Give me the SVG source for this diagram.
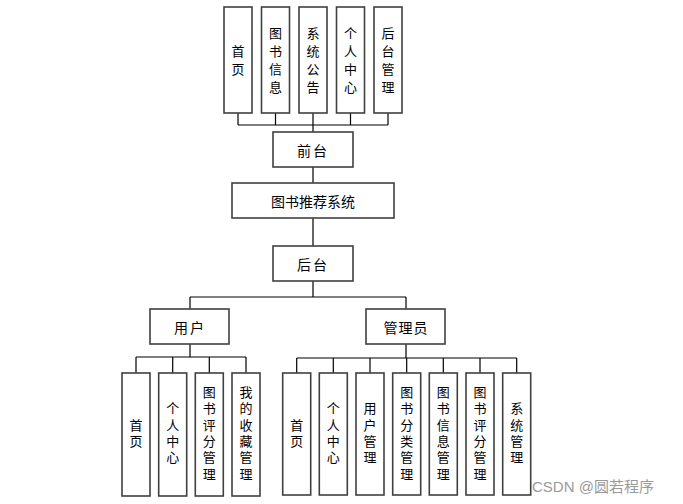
<svg xmlns="http://www.w3.org/2000/svg" width="683" height="504" viewBox="0 0 683 504">
<style>
.box{fill:#fff;stroke:#404040;stroke-width:1.6}
.t{font-family:"Noto Sans CJK SC","Liberation Sans",sans-serif;font-size:14px;fill:#000;text-anchor:middle;dominant-baseline:central}
.v{font-family:"Noto Sans CJK SC","Liberation Sans",sans-serif;font-size:13px;fill:#000;text-anchor:middle;writing-mode:vertical-rl;letter-spacing:5px}
.v2{font-family:"Noto Sans CJK SC","Liberation Sans",sans-serif;font-size:13px;fill:#000;text-anchor:middle;writing-mode:vertical-rl;letter-spacing:3.3px}
.ln{fill:none;stroke:#000;stroke-width:1.2}
.wm{font-family:"Liberation Sans","Noto Sans CJK SC",sans-serif;font-size:15px;fill:#9a9a9a}
</style>
<rect width="683" height="504" fill="#fff"/>
<g id="connectors">
<path class="ln" d="M238,113V125M275.5,113V125M313,113V125M350.5,113V125M388,113V125M238,125H388M313,125V132"/>
<path class="ln" d="M313,167V183M313,218V246M313,281V297M190,297H406M190,297V309M406,297V309"/>
<path class="ln" d="M190,344V357M136,357H246M136,357V373M172.7,357V373M209.3,357V373M246,357V373"/>
<path class="ln" d="M406,344V358M296.7,358H516.7M296.7,358V373M333.3,358V373M370,358V373M406.7,358V373M443.3,358V373M480,358V373M516.7,358V373"/>
</g>
<g id="top-home"><rect class="box" x="224" y="7" width="28" height="106"/><text class="v" x="238" y="62.5">首页</text></g>
<g id="top-bookinfo"><rect class="box" x="261.5" y="7" width="28" height="106"/><text class="v" x="275.5" y="62.5">图书信息</text></g>
<g id="top-notice"><rect class="box" x="299" y="7" width="28" height="106"/><text class="v" x="313" y="62.5">系统公告</text></g>
<g id="top-personal"><rect class="box" x="336.5" y="7" width="28" height="106"/><text class="v" x="350.5" y="62.5">个人中心</text></g>
<g id="top-admin"><rect class="box" x="374" y="7" width="28" height="106"/><text class="v" x="388" y="62.5">后台管理</text></g>
<g id="frontend"><rect class="box" x="273" y="132" width="80" height="35"/><text class="t" x="313" y="149.5" letter-spacing="2">前台</text></g>
<g id="system"><rect class="box" x="232" y="183" width="162" height="35"/><text class="t" x="313" y="200.5">图书推荐系统</text></g>
<g id="backend"><rect class="box" x="273" y="246" width="80" height="35"/><text class="t" x="313" y="263.5" letter-spacing="2">后台</text></g>
<g id="user"><rect class="box" x="150" y="309" width="79" height="35"/><text class="t" x="190" y="326.5" letter-spacing="2">用户</text></g>
<g id="admin"><rect class="box" x="366" y="309" width="79" height="35"/><text class="t" x="406" y="326.5" letter-spacing="1">管理员</text></g>
<g id="u-home"><rect class="box" x="122" y="373" width="28" height="123"/><text class="v2" x="136" y="434.5">首页</text></g>
<g id="u-personal"><rect class="box" x="158.7" y="373" width="28" height="123"/><text class="v2" x="172.7" y="434.5">个人中心</text></g>
<g id="u-rating"><rect class="box" x="195.3" y="373" width="28" height="123"/><text class="v2" x="209.3" y="434.5">图书评分管理</text></g>
<g id="u-favorites"><rect class="box" x="232" y="373" width="28" height="123"/><text class="v2" x="246" y="434.5">我的收藏管理</text></g>
<g id="a-home"><rect class="box" x="282.7" y="373" width="28" height="122"/><text class="v2" x="296.7" y="434.5">首页</text></g>
<g id="a-personal"><rect class="box" x="319.3" y="373" width="28" height="122"/><text class="v2" x="333.3" y="434.5">个人中心</text></g>
<g id="a-users"><rect class="box" x="356" y="373" width="28" height="122"/><text class="v2" x="370" y="434.5">用户管理</text></g>
<g id="a-category"><rect class="box" x="392.7" y="373" width="28" height="122"/><text class="v2" x="406.7" y="434.5">图书分类管理</text></g>
<g id="a-bookinfo"><rect class="box" x="429.3" y="373" width="28" height="122"/><text class="v2" x="443.3" y="434.5">图书信息管理</text></g>
<g id="a-rating"><rect class="box" x="466" y="373" width="28" height="122"/><text class="v2" x="480" y="434.5">图书评分管理</text></g>
<g id="a-system"><rect class="box" x="502.7" y="373" width="28" height="122"/><text class="v2" x="516.7" y="434.5">系统管理</text></g>
<text class="wm" x="532" y="492">CSDN @圆若程序</text>
</svg>
